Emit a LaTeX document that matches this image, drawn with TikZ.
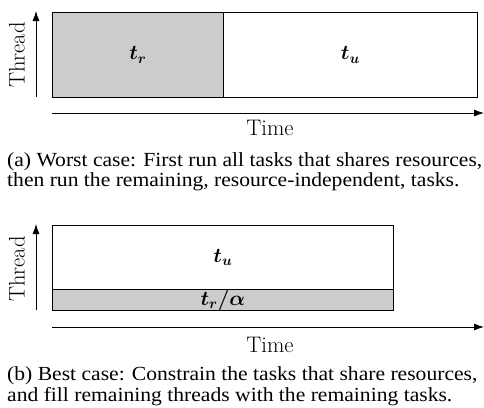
\documentclass[tikz,border=0pt]{standalone}
\usepackage{amsmath,bm}
\usepackage{fontspec}
\newfontfamily\capfont{Liberation Serif}
\usetikzlibrary{arrows.meta}
\newcommand{\captionline}[1]{\scalebox{1.08}[1]{#1}}
\begin{document}
\begin{tikzpicture}[x=1pt,y=-1pt,
  box/.style={draw=black,line width=0.8pt},
  shared/.style={box,fill=black!20},
  lbl/.style={font=\fontsize{22.5}{26}\selectfont},
  axis/.style={line width=0.8pt,-{Latex[length=10pt,width=7pt]}},
  captext/.style={anchor=base west,inner sep=0pt,font=\capfont\fontsize{20}{24}\selectfont}]
\useasboundingbox (0,0) rectangle (484,407);
% ---- panel (a)
\node[shared,minimum width=171pt,minimum height=85pt,anchor=north west] (ra) at (52,12) {};
\node[box,minimum width=254pt,minimum height=85pt,anchor=north west] (ua) at (223,12) {};
\node[lbl] (tra) at (ra.center) {$\bm{t_r}$};
\node[lbl] (tua) at (ua.center) {$\bm{t_u}$};
\coordinate (ya0) at (36,97);
\coordinate (ya1) at (36,11);
\draw[axis] (ya0) -- (ya1);
\node[lbl,rotate=90] (tha) at (17,55) {Thread};
\coordinate (xa0) at (52,113);
\coordinate (xa1) at (484,113);
\draw[axis] (xa0) -- (xa1);
\node[lbl] (tia) at (270,128) {Time};
\node[captext] (ca1) at (7,166) {\captionline{(a) Worst case: First run all tasks that shares resources,}};
\node[captext] (ca2) at (7,186) {\captionline{then run the remaining, resource-independent, tasks.}};
% ---- panel (b)
\node[box,minimum width=341pt,minimum height=64pt,anchor=north west] (ub) at (52,225) {};
\node[shared,minimum width=341pt,minimum height=21pt,anchor=north west] (rb) at (52,289) {};
\node[lbl] (tub) at (ub.center) {$\bm{t_u}$};
\node[lbl] (trb) at (rb.center) {$\bm{t_r/\alpha}$};
\coordinate (yb0) at (36,310);
\coordinate (yb1) at (36,224);
\draw[axis] (yb0) -- (yb1);
\node[lbl,rotate=90] (thb) at (17,269) {Thread};
\coordinate (xb0) at (52,327);
\coordinate (xb1) at (484,327);
\draw[axis] (xb0) -- (xb1);
\node[lbl] (tib) at (270,345) {Time};
\node[captext] (cb1) at (7,380) {\captionline{(b) Best case: Constrain the tasks that share resources,}};
\node[captext] (cb2) at (7,401) {\captionline{and fill remaining threads with the remaining tasks.}};
\end{tikzpicture}
\end{document}
